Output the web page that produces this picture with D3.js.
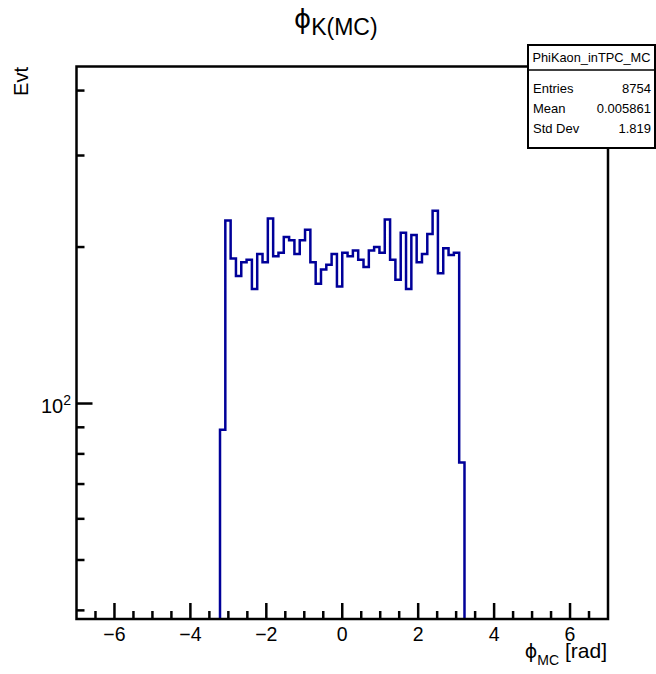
<!DOCTYPE html>
<html>
<head>
<meta charset="utf-8">
<script src="https://cdn.jsdelivr.net/npm/d3@7"></script>
<style>
  html, body { margin: 0; padding: 0; background: #fff; }
  svg { display: block; }
  text { font-family: "Liberation Sans", Arial, Helvetica, sans-serif; fill: #000; }
  .greek { font-family: "DejaVu Sans", sans-serif; }
</style>
</head>
<body>
<svg id="chart" width="656" height="674"></svg>
<script>
// ---- data ----
const histName = "PhiKaon_inTPC_MC";
const histLow = -3.22;      // low edge of first filled bin
const binWidth = 0.14;      // 100 bins over [-7, 7]
const binCounts = [89, 225, 190, 176, 187, 189, 166, 194, 187, 227, 192, 195, 209, 206, 194, 206,
                   216, 187, 170, 181, 185, 194, 168, 195, 192, 197, 189, 183, 197, 200, 195, 226,
                   189, 173, 213, 166, 211, 187, 194, 212, 235, 178, 199, 193, 195, 77];
const xTicksMajor = [-6, -4, -2, 0, 2, 4, 6];
const yTicksMajor = [100];
const yTicksMinor = [40, 50, 60, 70, 80, 90, 200, 300, 400];
const statLabels = ["Entries", "Mean", "Std Dev"];
const statValues = ["8754", "0.005861", "1.819"];
const xDomain = [-7, 7];
const yDomain = [38.5, 445];

// ---- layout ----
const svg = d3.select("#chart");
const fx0 = 76.5, fx1 = 608, fy0 = 66.5, fy1 = 619;
const x = d3.scaleLinear().domain(xDomain).range([fx0, fx1]);
const y = d3.scaleLog().domain(yDomain).range([fy1, fy0]);
const lineCol = "#000099";

// histogram step path
const edges = binCounts.map((c, i) => histLow + i * binWidth);
edges.push(histLow + binCounts.length * binWidth);
let p = d3.path();
p.moveTo(x(edges[0]), fy1);
binCounts.forEach((c, i) => {
  p.lineTo(x(edges[i]), y(c));
  p.lineTo(x(edges[i + 1]), y(c));
});
p.lineTo(x(edges[edges.length - 1]), fy1);
svg.append("path").attr("d", p.toString())
  .attr("fill", "none").attr("stroke", lineCol).attr("stroke-width", 2.5)
  .attr("stroke-linejoin", "miter");

// x axis ticks (inside frame)
const xMinor = d3.range(-13, 14).map(k => k * 0.5).filter(v => v > -7 && v < 7);
const gx = svg.append("g");
xMinor.forEach(v => {
  const major = xTicksMajor.includes(v);
  gx.append("line").attr("x1", x(v)).attr("x2", x(v))
    .attr("y1", fy1).attr("y2", fy1 - (major ? 16 : 8))
    .attr("stroke", "#000").attr("stroke-width", 2.5);
});
xTicksMajor.forEach(v => {
  gx.append("text").attr("x", x(v)).attr("y", 641)
    .attr("text-anchor", "middle").attr("font-size", 19.5)
    .text(d3.format("")(v));
});

// y axis ticks
const gy = svg.append("g");
yTicksMinor.forEach(v => {
  gy.append("line").attr("x1", fx0).attr("x2", fx0 + 8)
    .attr("y1", y(v)).attr("y2", y(v)).attr("stroke", "#000").attr("stroke-width", 2.5);
});
yTicksMajor.forEach(v => {
  gy.append("line").attr("x1", fx0).attr("x2", fx0 + 16)
    .attr("y1", y(v)).attr("y2", y(v)).attr("stroke", "#000").attr("stroke-width", 2.5);
  const t = gy.append("text").attr("x", 71).attr("y", y(v) + 9)
    .attr("text-anchor", "end").attr("font-size", 20);
  t.append("tspan").text("10");
  t.append("tspan").attr("font-size", 14).attr("dy", -8).text(Math.round(Math.log10(v)));
});

// frame
svg.append("rect").attr("x", fx0).attr("y", fy0).attr("width", fx1 - fx0).attr("height", fy1 - fy0)
  .attr("fill", "none").attr("stroke", "#000").attr("stroke-width", 2.5);

// axis titles
const xt = svg.append("text").attr("x", 607).attr("y", 658).attr("text-anchor", "end").attr("font-size", 21);
xt.append("tspan").attr("class", "greek").attr("font-size", 19).text("ϕ");
xt.append("tspan").attr("font-size", 14).attr("dy", 7).text("MC");
xt.append("tspan").attr("dy", -7).text(" [rad]");

svg.append("text").attr("transform", "translate(28,67) rotate(-90)")
  .attr("text-anchor", "end").attr("font-size", 20).text("Evt");

// title
const tt = svg.append("text").attr("x", 294).attr("y", 28).attr("font-size", 23);
tt.append("tspan").attr("class", "greek").attr("font-size", 26).text("ϕ");
tt.append("tspan").attr("dy", 7).text("K(MC)");

// stats box
const bx0 = 528, bx1 = 655, by0 = 45, by1 = 148;
svg.append("rect").attr("x", bx0).attr("y", by0).attr("width", bx1 - bx0).attr("height", by1 - by0)
  .attr("fill", "#fff").attr("stroke", "#000").attr("stroke-width", 2);
svg.append("line").attr("x1", bx0).attr("x2", bx1).attr("y1", 70).attr("y2", 70)
  .attr("stroke", "#000").attr("stroke-width", 1.5);
svg.append("text").attr("x", (bx0 + bx1) / 2).attr("y", 62).attr("text-anchor", "middle")
  .attr("font-size", 12.8).text(histName);
statLabels.forEach((l, i) => {
  svg.append("text").attr("x", 533).attr("y", 93 + i * 20).attr("font-size", 13).text(l);
  svg.append("text").attr("x", 651).attr("y", 93 + i * 20).attr("text-anchor", "end")
    .attr("font-size", 13).text(statValues[i]);
});
</script>
</body>
</html>
